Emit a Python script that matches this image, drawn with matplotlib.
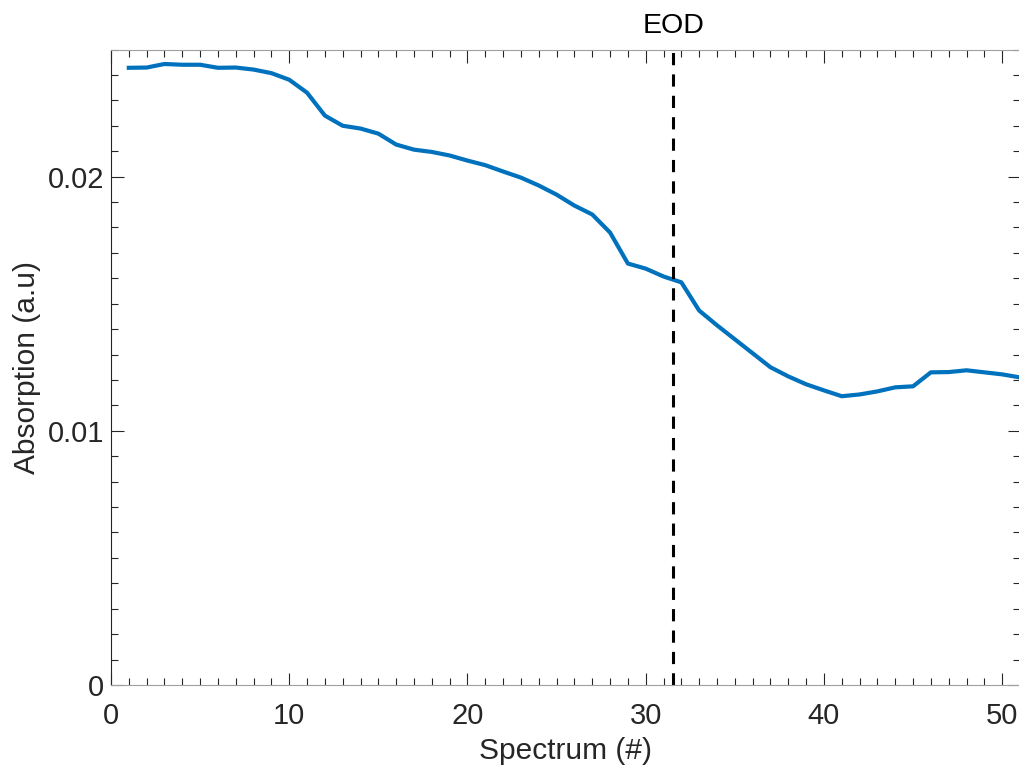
import matplotlib
matplotlib.use("Agg")
import matplotlib.pyplot as plt
from matplotlib.ticker import MultipleLocator
import numpy as np

plt.rcParams['font.family'] = ['Liberation Sans', 'DejaVu Sans']

spectrum = list(range(1, 52))
absorption = [0.02428, 0.02429, 0.02443, 0.02440, 0.02440, 0.02428, 0.02429, 0.02421,
              0.02407, 0.02381, 0.02330, 0.02240, 0.02200, 0.02189, 0.02169, 0.02126,
              0.02106, 0.02097, 0.02083, 0.02063, 0.02045, 0.02020, 0.01996, 0.01965,
              0.01929, 0.01886, 0.01851, 0.01780, 0.01658, 0.01638, 0.01607, 0.01584,
              0.01473, 0.01415, 0.01360, 0.01305, 0.01250, 0.01214, 0.01183, 0.01159,
              0.01136, 0.01143, 0.01155, 0.01171, 0.01175, 0.01230, 0.01231, 0.01238,
              0.01230, 0.01222, 0.01210]
eod_x = 31.55
eod_label = "EOD"

fig = plt.figure(figsize=(10.19, 7.67), dpi=100)
ax = fig.add_axes([111/1019, 1-685/767, (1020-111)/1019, (685-49.5)/767])

ax.plot(spectrum, absorption, color='#0072BD', lw=3)
ax.axvline(eod_x, color='black', lw=2.2, ls=(0, (4, 3)))
ax.text(eod_x, 0.0254, eod_label, ha='center', va='bottom', fontsize=20.5, color='black')

ax.set_xlim(0, 51)
ax.set_ylim(0, 0.025)
ax.xaxis.set_major_locator(MultipleLocator(10))
ax.xaxis.set_minor_locator(MultipleLocator(1))
ax.yaxis.set_major_locator(MultipleLocator(0.01))
ax.yaxis.set_minor_locator(MultipleLocator(0.001))
ax.set_yticks([0, 0.01, 0.02])
ax.set_yticklabels(['0', '0.01', '0.02'])
ax.tick_params(which='both', direction='in', top=True, right=True, colors='#262626',
               labelsize=21, labelcolor='#262626')
ax.tick_params(axis='x', which='major', pad=12)
ax.tick_params(axis='y', which='major', pad=5)
ax.tick_params(which='major', length=9, width=0.8)
ax.tick_params(which='minor', length=5, width=0.8)
for s in ax.spines.values():
    s.set_color('#262626')
    s.set_linewidth(0.8)
ax.spines['top'].set_color('#a0a0a0')
ax.spines['bottom'].set_color('#a0a0a0')

ax.set_xlabel('Spectrum (#)', fontsize=21.5, color='#262626', labelpad=5)
ax.set_ylabel('Absorption (a.u)', fontsize=21.5, color='#262626', labelpad=5)

fig.savefig('out.png', dpi=100)
